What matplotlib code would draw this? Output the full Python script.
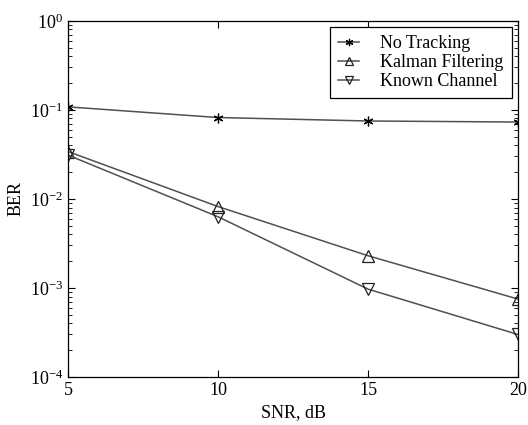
import matplotlib
matplotlib.use("Agg")
import matplotlib.pyplot as plt
import numpy as np

snr = [5, 10, 15, 20]
ber_no_tracking = [0.108, 0.082, 0.075, 0.073]
ber_kalman = [0.034, 0.0082, 0.0023, 0.00075]
ber_known = [0.031, 0.0063, 0.00097, 0.00030]

plt.rcParams['font.family'] = ['Liberation Serif', 'DejaVu Serif']
plt.rcParams['mathtext.fontset'] = 'custom'
plt.rcParams['mathtext.rm'] = 'Liberation Serif'
plt.rcParams['axes.unicode_minus'] = False
FS = 13

fig = plt.figure(figsize=(5.28, 4.25), dpi=100)
ax = fig.add_axes([0.129, 0.113, 0.852, 0.838])

lc = '#505050'
ax.semilogy(snr, ber_no_tracking, color=lc, lw=1.1, marker=(6, 2, 0), ms=7,
            mec='k', mew=0.9, label='No Tracking')
ax.semilogy(snr, ber_kalman, color=lc, lw=1.1, marker='^', ms=8,
            mfc='none', mec='#202020', mew=0.9, label='Kalman Filtering')
ax.semilogy(snr, ber_known, color=lc, lw=1.1, marker='v', ms=8,
            mfc='none', mec='#202020', mew=0.9, label='Known Channel')

ax.set_xlim(5, 20)
ax.set_ylim(1e-4, 1)
ax.set_xticks([5, 10, 15, 20])
ax.tick_params(which='both', direction='in', top=True, right=True, labelsize=FS)
ax.tick_params(which='major', length=5)
ax.tick_params(which='minor', length=3)
ax.set_xlabel('SNR, dB', fontsize=FS)
ax.set_ylabel('BER', fontsize=FS)
for s in ax.spines.values():
    s.set_linewidth(0.9)

leg = ax.legend(loc='upper right', fontsize=FS, fancybox=False, framealpha=1,
                edgecolor='k', handlelength=1.2, handletextpad=1.15,
                borderpad=0.45, labelspacing=0.1, borderaxespad=0.35,
                markerscale=0.75)
leg.get_frame().set_linewidth(0.9)

plt.savefig("out.png", dpi=100)
